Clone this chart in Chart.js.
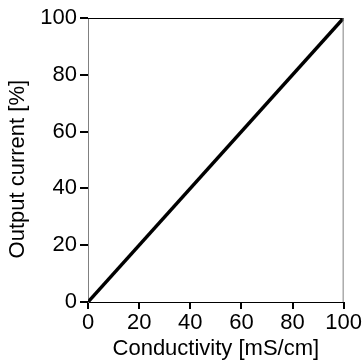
<!DOCTYPE html>
<html>
<head>
<meta charset="utf-8">
<script src="https://cdn.jsdelivr.net/npm/chart.js@4.4.0/dist/chart.umd.min.js"></script>
<style>
  html, body { margin: 0; padding: 0; background: #fff; }
  canvas { display: block; }
</style>
</head>
<body>
<canvas id="chart" width="363" height="362"></canvas>
<script>
// data
const conductivity = [0, 100];
const outputCurrent = [0, 100];
const xTicks = [0, 20, 40, 60, 80, 100];
const yTicks = [0, 20, 40, 60, 80, 100];

const points = conductivity.map((x, i) => ({ x: x, y: outputCurrent[i] }));

const labelFont = { family: 'Liberation Sans', size: 22 };

// top and right edges of the plot box
const frame = {
    id: 'frame',
    afterDraw(chart) {
        const a = chart.chartArea;
        const c = chart.ctx;
        c.save();
        c.lineWidth = 1;
        c.strokeStyle = '#000';
        c.beginPath();
        c.moveTo(a.left, a.top + 0.5);
        c.lineTo(a.right, a.top + 0.5);
        c.stroke();
        c.strokeStyle = '#808080';
        c.beginPath();
        c.moveTo(a.right - 0.5, a.top);
        c.lineTo(a.right - 0.5, a.bottom);
        c.stroke();
        c.restore();
    }
};

new Chart(document.getElementById('chart').getContext('2d'), {
    type: 'scatter',
    data: {
        datasets: [{
            data: points,
            showLine: true,
            borderColor: '#000',
            borderWidth: 3.5,
            pointRadius: 0,
            fill: false
        }]
    },
    options: {
        responsive: false,
        animation: false,
        layout: { padding: { top: 18, right: 17, left: 0, bottom: 0 } },
        plugins: { legend: { display: false }, tooltip: { enabled: false } },
        scales: {
            x: {
                type: 'linear',
                min: 0,
                max: 100,
                afterBuildTicks: s => { s.ticks = xTicks.map(v => ({ value: v })); },
                afterFit: s => { s.height = 60; },
                ticks: { color: '#000', font: labelFont, padding: 1, maxRotation: 0 },
                grid: { drawOnChartArea: false, drawTicks: true, tickLength: 7, color: '#000', lineWidth: 2 },
                border: { color: '#000', width: 1 },
                title: {
                    display: true,
                    text: 'Conductivity [mS/cm]',
                    color: '#000',
                    font: labelFont,
                    padding: { top: 0, bottom: 0 }
                }
            },
            y: {
                type: 'linear',
                min: 0,
                max: 100,
                afterBuildTicks: s => { s.ticks = yTicks.map(v => ({ value: v })); },
                afterFit: s => { s.width = 88; },
                ticks: { color: '#000', font: labelFont, padding: 3 },
                grid: { drawOnChartArea: false, drawTicks: true, tickLength: 8, color: '#000', lineWidth: 2 },
                border: { color: '#808080', width: 1 },
                title: {
                    display: true,
                    // trailing spaces nudge the title down like in the original
                    text: 'Output current [%]   ',
                    color: '#000',
                    font: labelFont,
                    padding: { top: 5, bottom: 0 }
                }
            }
        }
    },
    plugins: [frame]
});
</script>
</body>
</html>
